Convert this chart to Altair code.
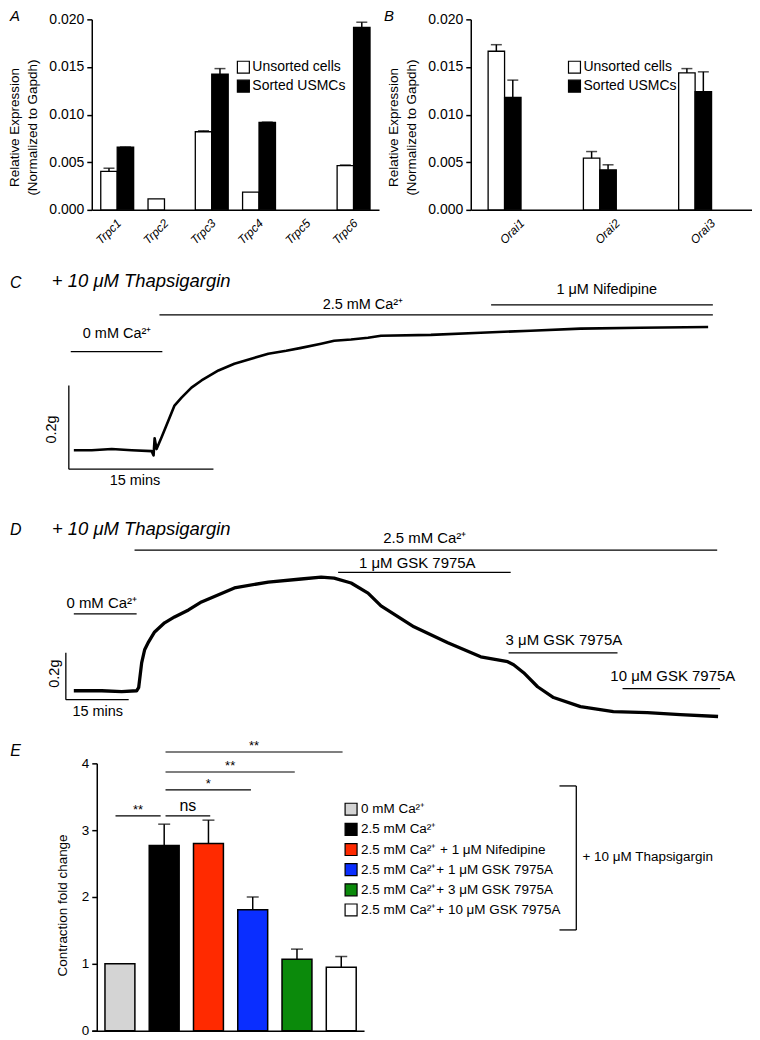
import altair as alt
import pandas as pd

FONT = "Liberation Sans"

# ---------------- Panel A : TRPC expression ----------------
trpc_genes = ["Trpc1", "Trpc2", "Trpc3", "Trpc4", "Trpc5", "Trpc6"]
trpc_unsorted = [0.00403, 0.00115, 0.00820, 0.00186, 0.0, 0.00465]
trpc_unsorted_sem = [0.00034, 0.0, 0.00010, 0.0, 0.0, 0.00006]
trpc_sorted = [0.00657, 0.0, 0.01425, 0.00918, 0.0, 0.01916]
trpc_sorted_sem = [0.00004, 0.0, 0.00058, 0.00003, 0.0, 0.00054]

# ---------------- Panel B : Orai expression ----------------
orai_genes = ["Orai1", "Orai2", "Orai3"]
orai_unsorted = [0.01665, 0.00542, 0.01438]
orai_unsorted_sem = [0.00069, 0.00070, 0.00045]
orai_sorted = [0.01180, 0.00420, 0.01240]
orai_sorted_sem = [0.00182, 0.00053, 0.00209]

cell_groups = ["Unsorted cells", "Sorted USMCs"]

# ---------------- Panel C : trace (minutes, grams) ----------------
c_time = [0.52, 2.38, 4.45, 6.52, 8.59, 8.79, 8.90, 9.10, 9.62, 10.34, 10.96, 11.69, 12.72,
          13.76, 15.52, 17.17, 18.93, 20.69, 22.55, 24.10, 26.17, 27.52, 29.27, 31.03, 32.38,
          37.55, 42.72, 47.90, 53.07, 59.27, 66.31]
c_force = [0.045, 0.045, 0.048, 0.045, 0.043, 0.033, 0.074, 0.048, 0.076, 0.117, 0.152, 0.171,
           0.195, 0.212, 0.236, 0.252, 0.264, 0.276, 0.283, 0.290, 0.300, 0.307, 0.310, 0.314,
           0.319, 0.321, 0.326, 0.331, 0.336, 0.338, 0.340]
c_treat = ["0 mM Ca²⁺", "2.5 mM Ca²⁺", "1 μM Nifedipine"]
c_treat_start = [0.2, 9.4, 43.8]
c_treat_end = [9.7, 66.8, 66.8]

# ---------------- Panel D : trace (minutes, grams) ----------------
d_time = [1.90, 8.57, 13.33, 16.90, 17.38, 18.10, 18.81, 19.76, 21.19, 23.57, 25.95, 29.29,
          32.38, 40.24, 48.33, 56.19, 60.95, 64.05, 68.10, 72.14, 75.24, 83.10, 91.19, 99.05,
          105.48, 106.90, 109.29, 112.62, 116.43, 122.86, 130.71, 138.81, 146.67, 155.71]
d_force = [0.038, 0.038, 0.034, 0.038, 0.051, 0.157, 0.213, 0.247, 0.289, 0.328, 0.353, 0.383,
           0.417, 0.477, 0.502, 0.515, 0.523, 0.519, 0.498, 0.455, 0.400, 0.311, 0.243, 0.183,
           0.162, 0.149, 0.115, 0.055, 0.009, -0.030, -0.051, -0.055, -0.064, -0.072]
d_treat = ["0 mM Ca²⁺", "2.5 mM Ca²⁺", "1 μM GSK 7975A", "3 μM GSK 7975A", "10 μM GSK 7975A"]
d_treat_start = [1.9, 16.4, 65.0, 105.7, 132.9]
d_treat_end = [16.9, 155.5, 106.2, 131.7, 156.2]

# ---------------- Panel E : contraction fold change ----------------
e_conditions = ["0 mM Ca²⁺", "2.5 mM Ca²⁺", "2.5 mM Ca²⁺ + 1 μM Nifedipine",
                "2.5 mM Ca²⁺+ 1 μM GSK 7975A", "2.5 mM Ca²⁺+ 3 μM GSK 7975A",
                "2.5 mM Ca²⁺+ 10 μM GSK 7975A"]
e_fold = [1.00, 2.77, 2.80, 1.81, 1.07, 0.95]
e_sem = [0.0, 0.32, 0.35, 0.19, 0.15, 0.16]
e_colors = ["#d4d4d4", "#000000", "#ff2a00", "#0a2eff", "#0b8a0b", "#ffffff"]
sig_from = [-0.10, 1.03, 1.03, 1.03, 1.03]
sig_to = [0.92, 2.04, 2.96, 3.95, 5.03]
sig_label = ["**", "ns", "*", "**", "**"]

# =====================================================================
def expr_frame(genes, u, us, s, ss):
    rows = []
    for g, a, ae, b, be in zip(genes, u, us, s, ss):
        rows.append(dict(gene=g, group=cell_groups[0], value=a, sem=ae))
        rows.append(dict(gene=g, group=cell_groups[1], value=b, sem=be))
    df = pd.DataFrame(rows)
    df["upper"] = df["value"] + df["sem"]
    return df


def expr_panel(df, genes, width, p_inner, p_outer, align, legend_x, letter, letter_dx):
    xenc = alt.X("gene:N",
                 scale=alt.Scale(domain=genes, paddingInner=p_inner, paddingOuter=p_outer, align=align),
                 axis=alt.Axis(title=None, labelAngle=-45, labelAlign="right", labelBaseline="middle",
                               labelFontStyle="italic", labelFontSize=12, labelColor="black",
                               labelPadding=11, labelOffset=2, labelOverlap=False, ticks=False,
                               tickSize=0, domainColor="black", domainWidth=1.5))
    xoff = alt.XOffset("group:N", scale=alt.Scale(domain=cell_groups, paddingInner=0, paddingOuter=0))
    yscale = alt.Scale(domain=[0, 0.02], nice=False, padding=0)
    yaxis = alt.Axis(values=[0, 0.005, 0.01, 0.015, 0.02], format=".3f", grid=False,
                     title=["Relative Expression", "(Normalized to Gapdh)"], titleAngle=270,
                     titleAlign="center", titleBaseline="bottom", titleX=-70, titleY=108,
                     titleFontSize=13.5, titleFontWeight="normal", titleLineHeight=18,
                     titleColor="black", labelFontSize=14, labelColor="black", labelPadding=3,
                     tickSize=5, tickWidth=1.5, tickColor="black", domainColor="black",
                     domainWidth=1.5)

    def yenc(field):
        return alt.Y(f"{field}:Q", scale=yscale, axis=yaxis)

    base = alt.Chart(df)
    bars = base.transform_filter("datum.value > 0").mark_bar(stroke="black", strokeWidth=1.3).encode(
        x=xenc, xOffset=xoff, y=yenc("value"),
        color=alt.Color("group:N", scale=alt.Scale(domain=cell_groups, range=["white", "black"]),
                        legend=alt.Legend(orient="none", legendX=legend_x, legendY=41, title=None,
                                          symbolType="square", symbolSize=144,
                                          symbolStrokeColor="black", symbolStrokeWidth=1.2,
                                          labelFontSize=14, labelColor="black", labelOffset=2,
                                          rowPadding=1, padding=0)))
    err = base.transform_filter("datum.sem > 0")
    stem = err.mark_rule(color="black", strokeWidth=1.5).encode(
        x=xenc, xOffset=xoff, y=yenc("value"), y2="upper:Q")
    cap = err.mark_tick(color="black", thickness=1.5, size=11, orient="horizontal").encode(
        x=xenc, xOffset=xoff, y=yenc("upper"))
    return alt.layer(bars, stem, cap).properties(
        width=width, height=191,
        title=alt.Title(letter, anchor="start", frame="group", dx=letter_dx, dy=12, offset=0,
                        fontSize=15, fontStyle="italic", fontWeight="normal", baseline="top",
                        color="black", font=FONT))


a_chart = expr_panel(expr_frame(trpc_genes, trpc_unsorted, trpc_unsorted_sem, trpc_sorted, trpc_sorted_sem),
                     trpc_genes, 288, 0.304, 0.19, 0.5, 145, "A", -82)
b_chart = expr_panel(expr_frame(orai_genes, orai_unsorted, orai_unsorted_sem, orai_sorted, orai_sorted_sem),
                     orai_genes, 282, 0.32, 0.136, 0.67, 97, "B", -87)


# =====================================================================
def trace_panel(time, force, stroke_w, text_size, xdom, ydom, width, height, treat_df, letter_df,
                title_df, bar_df, bar_text_df):
    xs = alt.Scale(domain=xdom, nice=False, zero=False, padding=0)
    ys = alt.Scale(domain=ydom, nice=False, zero=False, padding=0)

    def X(f):
        return alt.X(f"{f}:Q", scale=xs, axis=None)

    def Y(f):
        return alt.Y(f"{f}:Q", scale=ys, axis=None)

    trace = alt.Chart(pd.DataFrame({"t": time, "g": force})).mark_line(
        color="black", strokeWidth=stroke_w, strokeJoin="round").encode(x=X("t"), y=Y("g"))
    lines = alt.Chart(treat_df).mark_rule(color="black", strokeWidth=1.3).encode(
        x=X("x1"), x2="x2:Q", y=Y("lvl"))
    labels = alt.Chart(treat_df).mark_text(font=FONT, fontSize=text_size, color="black",
                                           align="center", baseline="alphabetic").encode(
        x=X("tx"), y=Y("ty"), text="label:N")
    sbar = alt.Chart(bar_df).mark_rule(color="black", strokeWidth=1.3).encode(
        x=X("x1"), x2="x2:Q", y=Y("y1"), y2="y2:Q")
    stext_v = alt.Chart(bar_text_df.iloc[[0]]).mark_text(
        font=FONT, fontSize=14.5, color="black", angle=270, align="center", baseline="middle").encode(
        x=X("x"), y=Y("y"), text="label:N")
    stext_h = alt.Chart(bar_text_df.iloc[[1]]).mark_text(
        font=FONT, fontSize=14.5, color="black", align="center", baseline="middle").encode(
        x=X("x"), y=Y("y"), text="label:N")
    letter = alt.Chart(letter_df).mark_text(
        font=FONT, fontSize=16, fontStyle="italic", color="black", align="left",
        baseline="alphabetic").encode(x=X("x"), y=Y("y"), text="label:N")
    title = alt.Chart(title_df).mark_text(
        font=FONT, fontSize=18.5, fontStyle="italic", color="black", align="left",
        baseline="alphabetic").encode(x=X("x"), y=Y("y"), text="label:N")
    return alt.layer(trace, lines, labels, sbar, stext_v, stext_h, letter, title).properties(
        width=width, height=height)


c_treat_df = pd.DataFrame({"label": c_treat, "x1": c_treat_start, "x2": c_treat_end,
                           "lvl": [0.281, 0.369, 0.393],
                           "tx": [5.0, 30.5, 55.8], "ty": [0.314, 0.383, 0.419]})
c_chart = trace_panel(
    c_time, c_force, 2.6, 14.5, [2.38, 2.38 + 288 / 9.667], [0.0, 0.62], 288, 260,
    c_treat_df,
    pd.DataFrame({"x": [-6.10], "y": [0.434], "label": ["C"]}),
    pd.DataFrame({"x": [-1.76], "y": [0.436], "label": ["+ 10 μM Thapsigargin"]}),
    pd.DataFrame({"x1": [0, 0], "x2": [0, 15], "y1": [0, 0], "y2": [0.2, 0]}),
    pd.DataFrame({"x": [-1.76, 6.86], "y": [0.095, -0.029], "label": ["0.2g", "15 mins"]}))

d_treat_df = pd.DataFrame({"label": d_treat, "x1": d_treat_start, "x2": d_treat_end,
                           "lvl": [0.366, 0.638, 0.543, 0.200, 0.047],
                           "tx": [8.57, 85.7, 83.9, 118.9, 144.9],
                           "ty": [0.391, 0.668, 0.562, 0.234, 0.081]})
d_chart = trace_panel(
    d_time, d_force, 3.3, 15, [6.19, 6.19 + 288 / 4.2], [-0.272, 0.984], 288, 295,
    d_treat_df,
    pd.DataFrame({"x": [-13.33], "y": [0.702], "label": ["D"]}),
    pd.DataFrame({"x": [-3.33], "y": [0.703], "label": ["+ 10 μM Thapsigargin"]}),
    pd.DataFrame({"x1": [0, 0], "x2": [0, 15], "y1": [0, 0], "y2": [0.2, 0]}),
    pd.DataFrame({"x": [-2.62, 7.62], "y": [0.111, -0.051], "label": ["0.2g", "15 mins"]}))

# =====================================================================
e_df = pd.DataFrame({"pos": list(range(len(e_conditions))), "condition": e_conditions,
                     "fold": e_fold, "sem": e_sem})
e_df["upper"] = e_df["fold"] + e_df["sem"]
exs = alt.Scale(domain=[-0.636, 5.515], nice=False, zero=False, padding=0)
eys = alt.Scale(domain=[0, 4], nice=False, padding=0)
e_xaxis = alt.Axis(title=None, labels=False, ticks=False, grid=False, domainColor="black",
                   domainWidth=1.5)
e_yaxis = alt.Axis(values=[0, 1, 2, 3, 4], grid=False, offset=-5, title="Contraction fold change",
                   titleAngle=270, titleAlign="center", titleBaseline="bottom", titleX=-27,
                   titleY=142, titleFontSize=13.5, titleFontWeight="normal", titleColor="black",
                   labelFontSize=13.5, labelColor="black", labelPadding=3, tickSize=5, tickWidth=1.5,
                   tickColor="black", domainColor="black", domainWidth=1.5)


def EX(f):
    return alt.X(f"{f}:Q", scale=exs, axis=e_xaxis)


def EY(f):
    return alt.Y(f"{f}:Q", scale=eys, axis=e_yaxis)


e_bars = alt.Chart(e_df).mark_bar(size=30, stroke="black", strokeWidth=1.5).encode(
    x=EX("pos"), y=EY("fold"),
    color=alt.Color("condition:N", scale=alt.Scale(domain=e_conditions, range=e_colors),
                    legend=alt.Legend(orient="none", legendX=253, legendY=39, title=None,
                                      symbolType="square", symbolSize=144,
                                      symbolStrokeColor="black", symbolStrokeWidth=1.2,
                                      labelFontSize=13.5, labelColor="black", labelOffset=3,
                                      labelLimit=400, rowPadding=2.2, padding=0)))
e_err = alt.Chart(e_df).transform_filter("datum.sem > 0")
e_stem = e_err.mark_rule(color="black", strokeWidth=1.5).encode(x=EX("pos"), y=EY("fold"), y2="upper:Q")
e_cap = e_err.mark_tick(color="black", thickness=1.5, size=12, orient="horizontal").encode(
    x=EX("pos"), y=EY("upper"))

sig_df = pd.DataFrame({"x1": sig_from, "x2": sig_to, "label": sig_label,
                       "lvl": [3.213, 3.213, 3.602, 3.871, 4.170]})
sig_df["mid"] = (sig_df["x1"] + sig_df["x2"]) / 2
sig_lines = alt.Chart(sig_df).mark_rule(color="black", strokeWidth=1.2).encode(
    x=EX("x1"), x2="x2:Q", y=EY("lvl"))
sig_stars = alt.Chart(sig_df).transform_filter("datum.label != 'ns'").mark_text(
    font=FONT, fontSize=13, color="black", align="center", baseline="alphabetic", dy=-2).encode(
    x=EX("mid"), y=EY("lvl"), text="label:N")
sig_ns = alt.Chart(sig_df).transform_filter("datum.label == 'ns'").mark_text(
    font=FONT, fontSize=16, color="black", align="center", baseline="alphabetic", dy=-5).encode(
    x=EX("mid"), y=EY("lvl"), text="label:N")

bracket_df = pd.DataFrame({"x1": [10.31, 9.93, 9.93], "x2": [10.31, 10.31, 10.31],
                           "y1": [1.507, 3.662, 1.507], "y2": [3.662, 3.662, 1.507]})
bracket = alt.Chart(bracket_df).mark_rule(color="black", strokeWidth=1.3).encode(
    x=EX("x1"), x2="x2:Q", y=EY("y1"), y2="y2:Q")
bracket_text = alt.Chart(pd.DataFrame({"x": [10.45], "y": [2.60], "label": ["+ 10 μM Thapsigargin"]})).mark_text(
    font=FONT, fontSize=13.5, color="black", align="left", baseline="middle").encode(
    x=EX("x"), y=EY("y"), text="label:N")
e_letter = alt.Chart(pd.DataFrame({"x": [-2.48], "y": [4.115], "label": ["E"]})).mark_text(
    font=FONT, fontSize=16, fontStyle="italic", color="black", align="left",
    baseline="alphabetic").encode(x=EX("x"), y=EY("y"), text="label:N")

e_chart = alt.layer(e_bars, e_stem, e_cap, sig_lines, sig_stars, sig_ns, bracket, bracket_text,
                    e_letter).properties(width=273, height=268)


# empty grid cell (keeps panels C, D, E in the left column)
def blank():
    return alt.Chart(pd.DataFrame({"v": [0]})).mark_point(opacity=0).encode(
        x=alt.X("v:Q", axis=None), y=alt.Y("v:Q", axis=None)).properties(width=1, height=1)


chart = alt.concat(a_chart, b_chart, c_chart, blank(), d_chart, blank(), e_chart, blank(),
                   columns=2, spacing={"row": 0, "column": 92}, bounds="flush",
                   align="each").resolve_scale(color="independent").properties(
    padding=0).configure(font=FONT).configure_view(strokeWidth=0).configure_axis(
    labelFont=FONT, titleFont=FONT).configure_legend(labelFont=FONT)

chart.save("out.html", embed_options={"renderer": "svg", "actions": False})
